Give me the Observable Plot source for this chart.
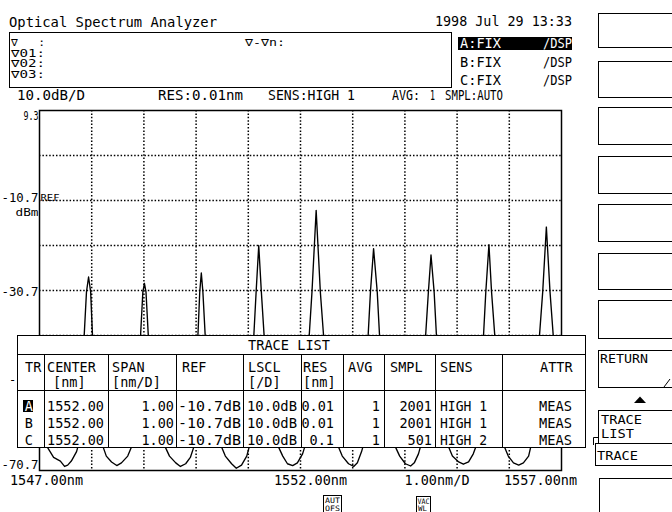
<!DOCTYPE html>
<html><head><meta charset="utf-8">
<script src="https://cdn.jsdelivr.net/npm/d3@7"></script>
<script src="https://cdn.jsdelivr.net/npm/@observablehq/plot@0.6"></script>
<style>
body{margin:0;background:#fff}
#chart{position:relative;width:672px;height:512px;overflow:hidden}
</style></head><body><div id="chart"></div>
<script>
// ---- data ----
const xDomain = [1547, 1557];
const yDomain = [-70.7, 9.3];
const xGrid = [1548, 1549, 1550, 1551, 1552, 1553, 1554, 1555, 1556];
const yGrid = [-60.7, -50.7, -40.7, -30.7, -20.7, -10.7, -0.7];
const yTickLabels = [9.3, -10.7, -30.7, -70.7];
const xTickNm = [1547, 1552, 1557];
const xTickText = ["1547.00nm", "1552.00nm", "1557.00nm"];
const spanText = "1.00nm/D";

const traceNm = [1547.00,1547.15,1547.27,1547.40,1547.48,1547.54,1547.61,1547.71,1547.77,
1547.85,1547.90,1547.94,1547.98,1548.02,
1548.19,1548.28,1548.38,1548.48,1548.57,1548.69,1548.78,
1548.93,1548.98,1549.01,1549.04,1549.09,
1549.39,1549.49,1549.61,1549.70,1549.80,1549.89,1549.97,
1550.03,1550.07,1550.10,1550.13,1550.18,
1550.47,1550.56,1550.68,1550.77,1550.87,1550.97,1551.04,
1551.10,1551.15,1551.20,1551.25,1551.31,
1551.56,1551.66,1551.75,1551.85,1551.94,1552.04,1552.12,
1552.16,1552.22,1552.30,1552.38,1552.45,
1552.71,1552.80,1552.92,1553.02,1553.09,1553.17,1553.23,
1553.29,1553.34,1553.40,1553.47,1553.52,
1553.80,1553.90,1554.01,1554.11,1554.18,1554.26,1554.32,
1554.39,1554.45,1554.50,1554.56,1554.61,
1554.82,1554.91,1555.03,1555.12,1555.22,1555.31,1555.39,
1555.50,1555.55,1555.61,1555.66,1555.73,
1555.89,1555.98,1556.08,1556.18,1556.27,1556.37,1556.43,
1556.57,1556.64,1556.71,1556.78,1556.85,
1556.92,1557.00];
const traceDb = [-63,-65.5,-67.8,-68.6,-69.8,-69.5,-68.6,-66.5,-64,
-42,-31,-27.7,-31,-42,
-64.5,-67.5,-68.8,-69.6,-69,-67.5,-65,
-42,-31,-29.1,-31,-42,
-65,-67.5,-69,-69.8,-69.2,-67.8,-65,
-42,-31,-26.8,-31,-42,
-65,-67.5,-69.2,-70.2,-69.5,-67.5,-64.5,
-42,-31,-20.7,-31,-42,
-65,-67.5,-69.2,-69.6,-69,-67,-64,
-42,-31,-12.9,-31,-42,
-65,-67.5,-69.2,-69.8,-69,-66.5,-64,
-42,-31,-21.4,-31,-42,
-65,-67.5,-69.2,-69.7,-69,-67,-64.5,
-42,-31,-22.8,-31,-42,
-65,-67.5,-68.8,-69.3,-68.8,-67,-64.5,
-42,-31,-20.5,-31,-42,
-65,-67.5,-69,-69.5,-69,-67.5,-64.5,
-42,-31,-16.6,-31,-42,
-58,-63];

const titleText = "Optical Spectrum Analyzer";
const dateText = "1998 Jul 29 13:33";
const markerLabels = ["\u2207   :", "\u220701:", "\u220702:", "\u220703:"];
const markerDiff = "\u2207-\u2207n:";
const traceModes = ["A:FIX", "B:FIX", "C:FIX"];
const traceDisp = ["/DSP", "/DSP", "/DSP"];
const statusText = ["10.0dB/D", "RES:0.01nm", "SENS:HIGH 1", "AVG:", "1", "SMPL:AUTO"];

const tableTitle = "TRACE LIST";
const header1 = ["TR", "CENTER", "SPAN", "REF", "LSCL", "RES", "AVG", "SMPL", "SENS", "ATTR"];
const header2 = ["", "[nm]", "[nm/D]", "", "[/D]", "[nm]", "", "", "", ""];
const traceIds = ["A", "B", "C"];
const centers = ["1552.00", "1552.00", "1552.00"];
const spans = ["1.00", "1.00", "1.00"];
const refs = ["-10.7dB", "-10.7dB", "-10.7dB"];
const lscls = ["10.0dB", "10.0dB", "10.0dB"];
const resols = ["0.01", "0.01", "0.1"];
const avgs = ["1", "1", "1"];
const smpls = ["2001", "2001", "501"];
const senses = ["HIGH 1", "HIGH 1", "HIGH 2"];
const attrs = ["MEAS", "MEAS", "MEAS"];

const softKeys = ["", "", "", "", "", "", "", "RETURN"];

// ---- chart ----
const trace = traceNm.map((nm, i) => ({nm, db: traceDb[i]}));
const FONT = "DejaVu Sans Mono";
const dot = "1.5,1.9";

const yLabelMarks = yTickLabels.map((v, i) => Plot.text([v], {
  y: d => d, frameAnchor: "left", textAnchor: "end", dx: -1, dy: [6, -2, 2, -5][i],
  text: d => d.toFixed(1), fontSize: 12, fontFamily: FONT, fill: "black"
}));
const xLabelMarks = xTickNm.map((v, i) => Plot.text([v], {
  x: d => d, frameAnchor: "bottom", text: () => xTickText[i],
  textAnchor: "middle", dx: [7, 10, -21][i], dy: 14, fontSize: 13.5, fontFamily: FONT, fill: "black"
}));

const svg = Plot.plot({
  width: 672, height: 512,
  marginLeft: 39, marginRight: 111, marginTop: 110, marginBottom: 42,
  x: {domain: xDomain, axis: null},
  y: {domain: yDomain, axis: null},
  style: {background: "white", fontFamily: FONT, color: "black"},
  marks: [
    Plot.ruleX(xGrid, {stroke: "black", strokeDasharray: dot, strokeWidth: 1.5}),
    Plot.ruleY(yGrid, {stroke: "black", strokeDasharray: dot, strokeWidth: 1.5}),
    Plot.line(trace, {x: "nm", y: "db", stroke: "black", strokeWidth: 1.35}),
    Plot.frame({stroke: "black", strokeWidth: 1.5}),
    ...yLabelMarks,
    Plot.text([yTickLabels[1]], {y: d => d, frameAnchor: "left", textAnchor: "end", dx: -1, dy: 12,
      text: () => "dBm", fontSize: 11, fontFamily: FONT, fill: "black"}),
    Plot.text([yTickLabels[1]], {y: d => d, frameAnchor: "left", textAnchor: "start", dx: 1, dy: -2,
      text: () => "REF", fontSize: 8, fontFamily: FONT, fill: "black"}),
    ...xLabelMarks,
    Plot.text([(xTickNm[1] + xTickNm[2]) / 2], {x: d => d, frameAnchor: "bottom", text: () => spanText,
      textAnchor: "middle", dx: 6, dy: 14, fontSize: 13.5, fontFamily: FONT, fill: "black"})
  ]
});
document.getElementById("chart").append(svg);

// condense the y axis labels like the instrument's narrow digits
const condense = {"9.3": 15, "-10.7": 37, "-30.7": 37, "-70.7": 37, "dBm": 23, "REF": 19};
d3.select(svg).selectAll("text").each(function() {
  const w = condense[this.textContent];
  if (w) d3.select(this).attr("textLength", w).attr("lengthAdjust", "spacingAndGlyphs");
});

// ---- instrument screen decorations ----
const g = d3.select(svg).append("g").attr("font-family", FONT).attr("fill", "black");
function txt(x, y, s, o = {}) {
  const e = g.append("text").attr("x", x).attr("y", y).attr("font-size", o.size || 13.5)
    .attr("text-anchor", o.anchor || "start").attr("fill", o.fill || "black").text(s);
  if (o.len) e.attr("textLength", o.len).attr("lengthAdjust", "spacingAndGlyphs");
  return e;
}
function box(x, y, w, h, o = {}) {
  return g.append("rect").attr("x", x).attr("y", y).attr("width", w).attr("height", h)
    .attr("fill", o.fill || "none").attr("stroke", o.stroke === undefined ? "black" : o.stroke)
    .attr("stroke-width", o.sw || 1);
}
function line(x1, y1, x2, y2, sw = 1) {
  g.append("line").attr("x1", x1).attr("y1", y1).attr("x2", x2).attr("y2", y2)
    .attr("stroke", "black").attr("stroke-width", sw);
}

// header
txt(9, 27, titleText, {size: 14.5, len: 208});
txt(572, 26, dateText, {size: 14, anchor: "end", len: 137});

// marker box
box(9.5, 32.5, 442, 55);
markerLabels.forEach((s, i) => txt(11, [46, 57, 67, 78][i], s, {size: 10, len: 34}));
txt(245, 46, markerDiff, {size: 10, len: 40});

// trace modes
box(458, 37, 114, 13, {fill: "black", stroke: "none"});
traceModes.forEach((s, i) => {
  const y = [48, 67, 85][i];
  const c = i === 0 ? "white" : "black";
  txt(460, y, s, {size: 13.5, len: 41, fill: c});
  txt(572, y, traceDisp[i], {size: 13.5, anchor: "end", len: 29, fill: c});
});

// status line
[[17, 68], [158, 85], [268, 87], [392, 28], [430, 5], [445, 58]].forEach(([x, w], i) =>
  txt(x, 100, statusText[i], {size: 14, len: w}));

// stray dash of the hidden -50.7 label
txt(9, 384, "-", {size: 12});

// trace list table
const T = {x0: 17, x1: 585, y0: 335, yh: 354, yc: 390, y1: 447};
box(T.x0 + 0.5, T.y0 + 0.5, T.x1 - T.x0, T.y1 - T.y0, {fill: "white"});
line(T.x0, T.yh + 0.5, T.x1, T.yh + 0.5);
line(T.x0, T.yc + 0.5, T.x1, T.yc + 0.5);
[44, 108, 176, 243, 301, 343, 384, 435, 502].forEach(x => line(x + 0.5, T.yh, x + 0.5, T.y1));
txt(289, 350, tableTitle, {size: 13.5, anchor: "middle", len: 82});
const hx = [25, 47, 112, 182, 248, 303, 348, 390, 440, 540];
header1.forEach((s, i) => txt(hx[i], 372, s, {size: 13.5}));
header2.forEach((s, i) => { if (s) txt(hx[i] + (i === 1 ? 6 : 0), 387, s, {size: 13.5}); });
const rowY = [411, 428, 445];
box(23, 400, 10, 12, {fill: "black", stroke: "none"});
traceIds.forEach((s, r) => {
  const y = rowY[r];
  txt(33, y, s, {size: 13.5, anchor: "end", fill: r === 0 ? "white" : "black"});
  txt(104, y, centers[r], {anchor: "end"});
  txt(174, y, spans[r], {anchor: "end"});
  txt(178, y, refs[r], {len: 63});
  txt(247, y, lscls[r], {len: 50});
  txt(334, y, resols[r], {anchor: "end"});
  txt(380, y, avgs[r], {anchor: "end"});
  txt(432, y, smpls[r], {anchor: "end"});
  txt(440, y, senses[r], {len: 47});
  txt(539, y, attrs[r], {len: 33});
});

// soft keys
const keys = [[13, 47], [61, 97], [107, 144], [156, 193], [204, 241], [253, 289], [300, 338], [350, 387]];
keys.forEach(([a, b], i) => {
  box(598.5, a + 0.5, 120, b - a);
  if (softKeys[i]) txt(600, a + 13, softKeys[i], {size: 13, len: 48});
});
line(664, 387, 670, 379);
g.append("path").attr("d", "M634,403 L640,396.5 L646,403 Z").attr("fill", "black");
box(598.5, 410.5, 120, 33);
txt(601, 424, "TRACE", {size: 12.5, len: 41});
txt(601, 438, "LIST", {size: 12.5, len: 33});
box(595.5, 443.5, 120, 22, {fill: "white"});
txt(597, 460, "TRACE", {size: 12.5, len: 41});
g.append("path").attr("d", "M593.5,445 V437.5 H598").attr("fill", "none").attr("stroke", "black");
box(599.5, 478.5, 120, 50);

// bottom icons
box(323.5, 495.5, 18, 18);
txt(332.5, 503, "AUT", {size: 7.5, anchor: "middle", len: 15});
txt(332.5, 510.5, "OFS", {size: 7.5, anchor: "middle", len: 15});
box(416.5, 496.5, 14, 18);
txt(423.5, 503.5, "VAC", {size: 7.5, anchor: "middle", len: 12});
txt(418, 511, "WL", {size: 7.5, len: 9});
</script></body></html>
